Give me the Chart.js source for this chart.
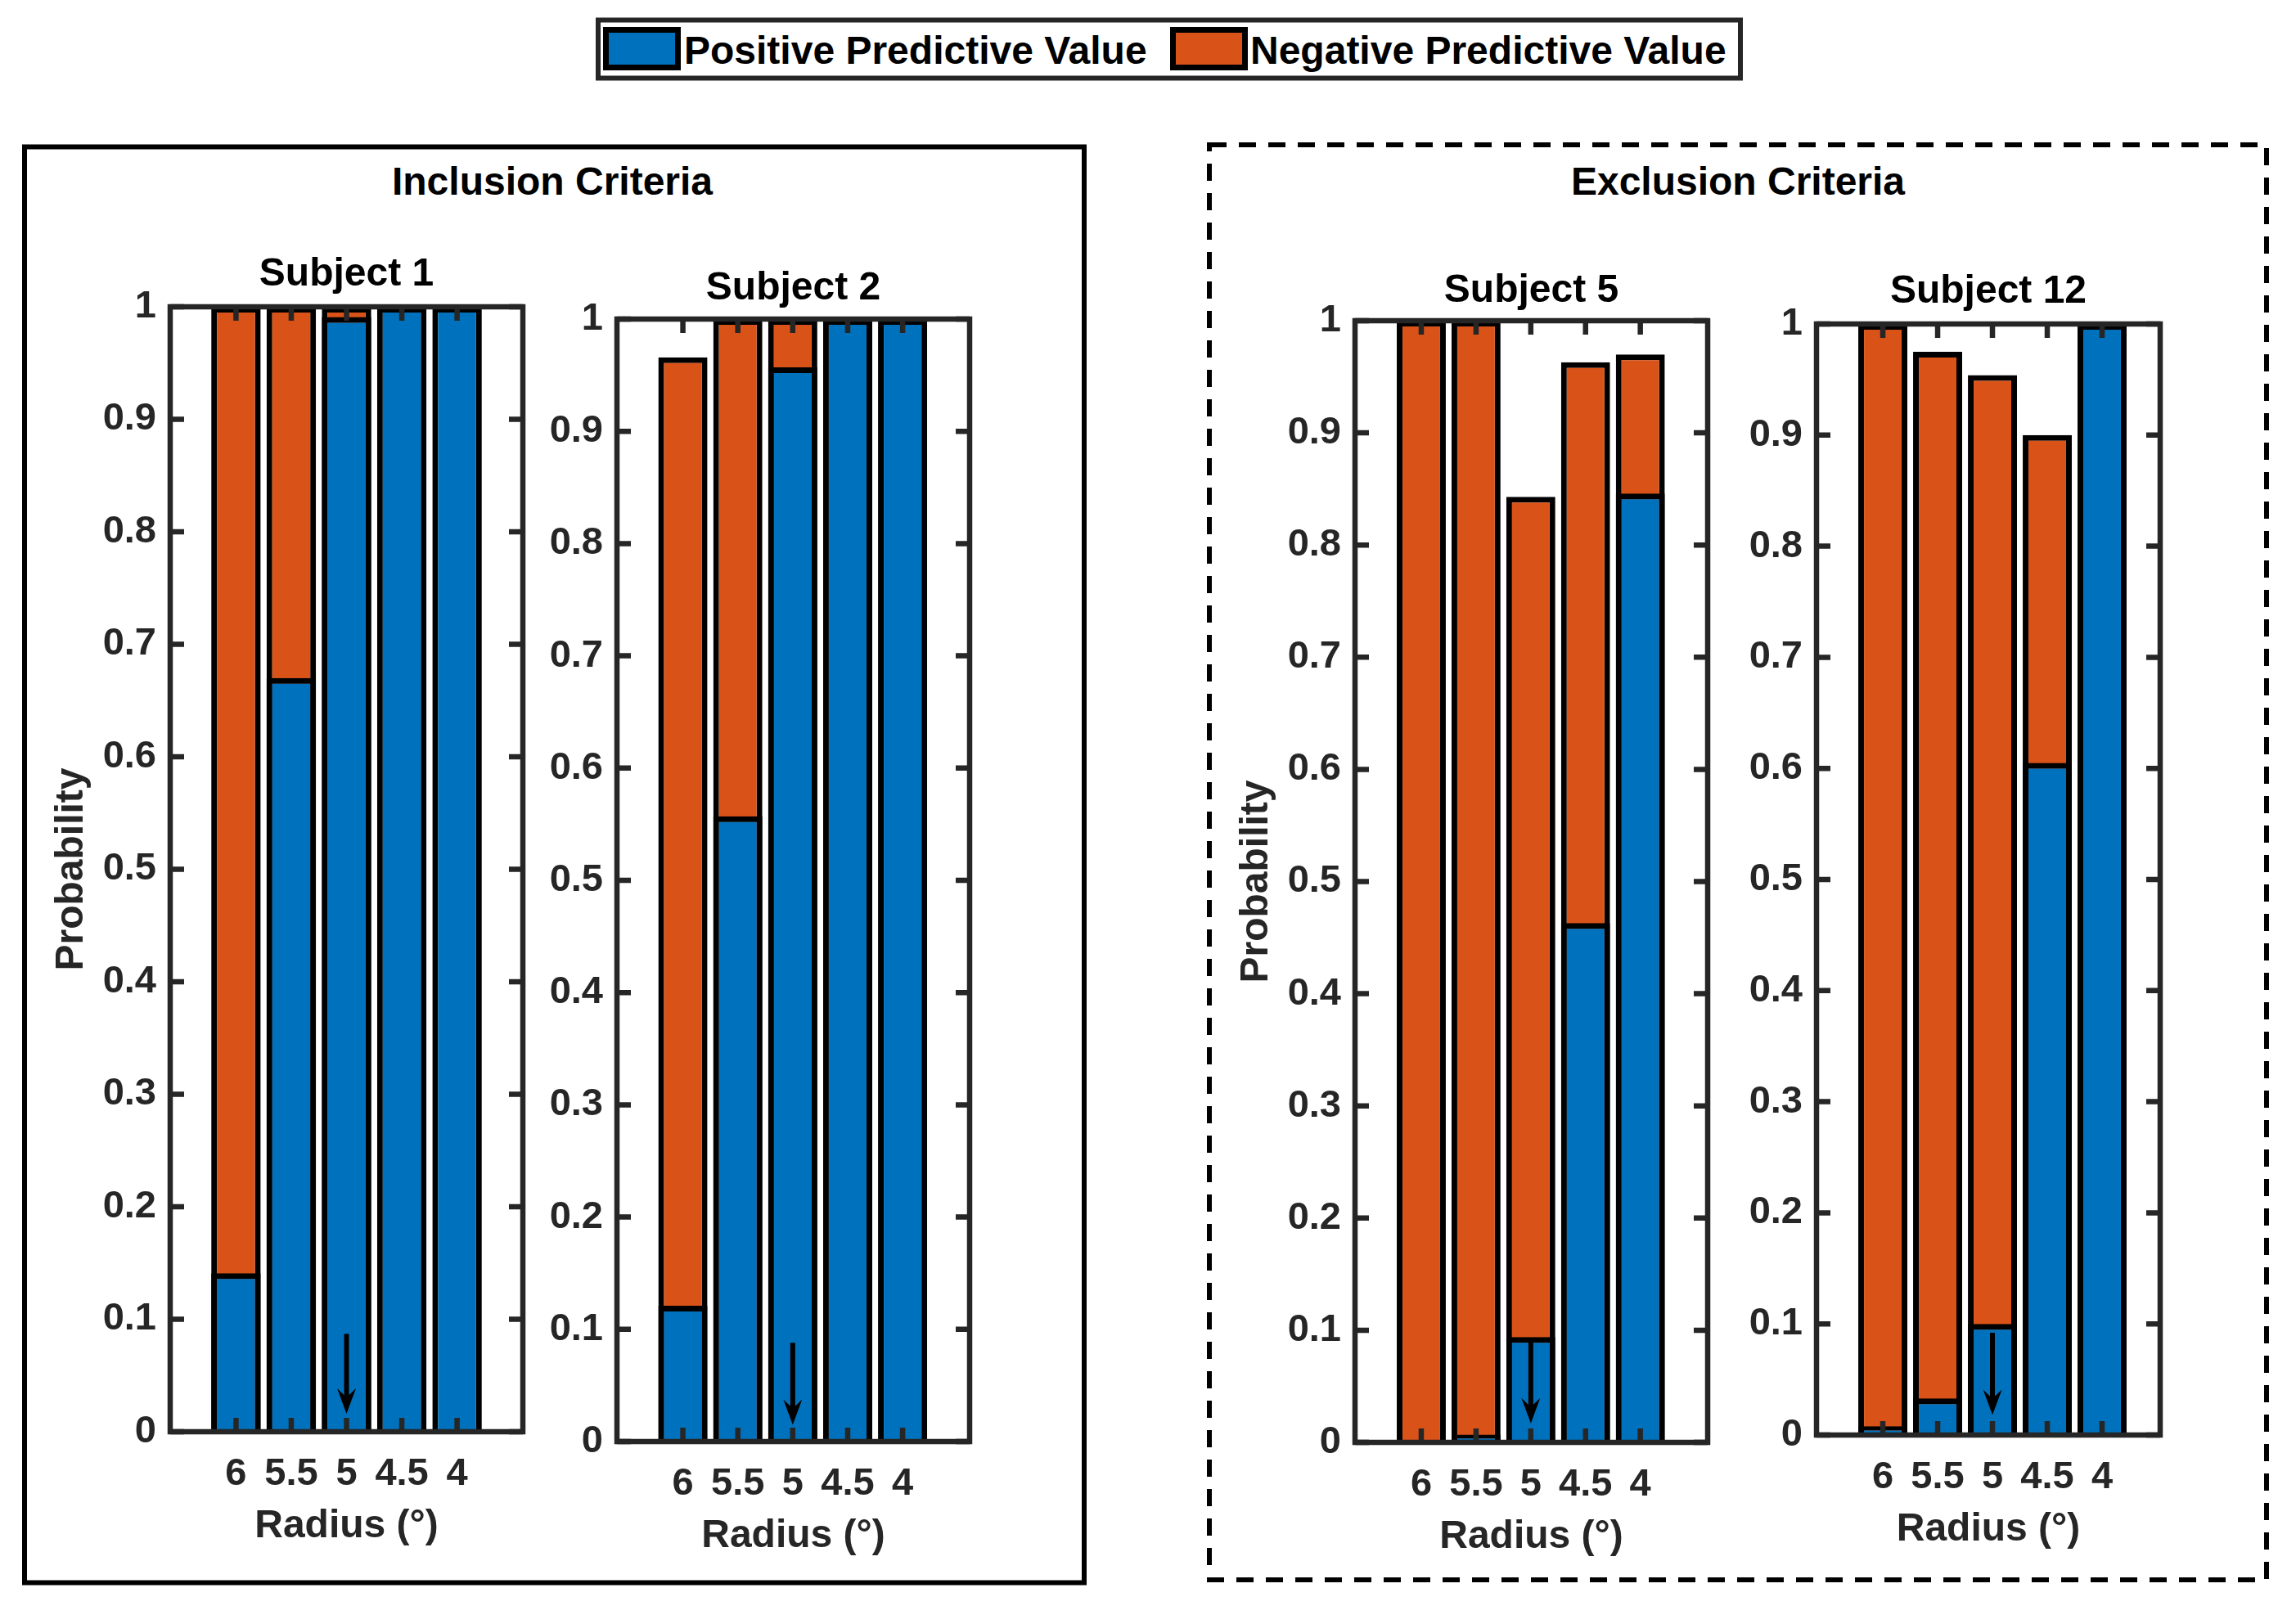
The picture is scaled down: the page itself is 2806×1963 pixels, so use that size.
<!DOCTYPE html>
<html>
<head>
<meta charset="utf-8">
<script src="https://cdn.jsdelivr.net/npm/chart.js@4.4.1/dist/chart.umd.min.js"></script>
<style>
  html, body { margin: 0; padding: 0; background: #fff; }
  body { width: 2806px; height: 1963px; position: relative; overflow: hidden;
         font-family: "Liberation Sans", Arial, sans-serif; font-weight: bold; }
  .panel { position: absolute; }
  .txt { position: absolute; white-space: nowrap; font-size: 48px; line-height: 60px; color: #000; }
  .centre { text-align: center; width: 800px; }
</style>
</head>
<body>

<svg style="position:absolute;left:0;top:0" width="2806" height="1963">
  <!-- legend -->
  <rect x="731" y="24.5" width="1396" height="71" fill="#fff" stroke="#262626" stroke-width="6"/>
  <rect x="740.5" y="36.5" width="88" height="46" fill="#0072BD" stroke="#000" stroke-width="7"/>
  <rect x="1433.5" y="36.5" width="88" height="46" fill="#D95319" stroke="#000" stroke-width="7"/>
  <!-- group boxes -->
  <rect x="30" y="179.5" width="1295" height="1755" fill="none" stroke="#000" stroke-width="6"/>
  <rect x="1478" y="177" width="1292" height="1754" fill="none" stroke="#000" stroke-width="6" stroke-dasharray="21 15"/>
</svg>

<div class="txt" style="left:836px;top:32px">Positive Predictive Value</div>
<div class="txt" style="left:1528px;top:32px">Negative Predictive Value</div>
<div class="txt centre" style="left:275px;top:192px">Inclusion Criteria</div>
<div class="txt centre" style="left:1724px;top:192px">Exclusion Criteria</div>

<script>
// values
const radii = ['6', '5.5', '5', '4.5', '4'];
const subjects = ['Subject 1', 'Subject 2', 'Subject 5', 'Subject 12'];

const ppvSubject1 = [0.141, 0.670, 0.991, 1.000, 1.000];
const npvSubject1 = [1.000, 1.000, 1.000, null, null];

const ppvSubject2 = [0.121, 0.557, 0.957, 1.000, 1.000];
const npvSubject2 = [0.966, 1.000, 1.000, null, null];

const ppvSubject5 = [0.000, 0.007, 0.094, 0.463, 0.846];
const npvSubject5 = [1.000, 1.000, 0.843, 0.963, 0.970];

const ppvSubject12 = [0.008, 0.033, 0.100, 0.605, 1.000];
const npvSubject12 = [1.000, 0.975, 0.954, 0.900, null];

// arrow marking the chosen radius
const arrowRadius = '5';
const arrowStart = [0.087, 0.088, 0.089, 0.092];
const arrowEnd = [0.016, 0.015, 0.017, 0.018];

// page layout (pixels) of each plot area
const panels = [
    { L: 208,  T: 375, R: 639,  B: 1750, xMin: -0.19, xMax: 6.19, gap: 39, ylabel: true },
    { L: 754,  T: 390, R: 1185, B: 1762, xMin: -0.20, xMax: 6.22, gap: 37, ylabel: false },
    { L: 1656, T: 392, R: 2087, B: 1763, xMin: -0.21, xMax: 6.23, gap: 36, ylabel: true },
    { L: 2220, T: 396, R: 2640, B: 1754, xMin: -0.21, xMax: 6.06, gap: 39, ylabel: false }
];
const ppvAll = [ppvSubject1, ppvSubject2, ppvSubject5, ppvSubject12];
const npvAll = [npvSubject1, npvSubject2, npvSubject5, npvSubject12];

const azul = '#0072BD';
const naranja = '#D95319';
const ejes = '#262626';
const familia = "'Liberation Sans', Arial, sans-serif";

Chart.defaults.font.family = familia;
Chart.defaults.font.weight = 'bold';

// axes box, inward ticks on all sides and the arrow
const marco = {
    id: 'marco',
    afterDatasetsDraw(chart, args, opts) {
        const { ctx, chartArea: a } = chart;
        const x = chart.scales.x;
        const y = chart.scales.y;
        ctx.save();
        ctx.strokeStyle = ejes;
        ctx.lineWidth = 6.5;
        ctx.lineCap = 'butt';
        ctx.beginPath();
        y.ticks.forEach(t => {
            const py = y.getPixelForValue(t.value);
            ctx.moveTo(a.left, py); ctx.lineTo(a.left + 17, py);
            ctx.moveTo(a.right, py); ctx.lineTo(a.right - 17, py);
        });
        x.ticks.forEach(t => {
            const px = x.getPixelForValue(t.value);
            ctx.moveTo(px, a.bottom); ctx.lineTo(px, a.bottom - 17);
            ctx.moveTo(px, a.top); ctx.lineTo(px, a.top + 17);
        });
        ctx.stroke();
        ctx.strokeRect(a.left, a.top, a.right - a.left, a.bottom - a.top);

        // flecha
        const ax = x.getPixelForValue(radii.indexOf(opts.radius) + 1);
        const y1 = y.getPixelForValue(opts.from);
        const y2 = y.getPixelForValue(opts.to);
        ctx.strokeStyle = '#000';
        ctx.fillStyle = '#000';
        ctx.lineWidth = 6;
        ctx.beginPath();
        ctx.moveTo(ax, y1);
        ctx.lineTo(ax, y2 - 18);
        ctx.stroke();
        ctx.beginPath();
        ctx.moveTo(ax, y2);
        ctx.lineTo(ax - 11.5, y2 - 31);
        ctx.lineTo(ax, y2 - 20);
        ctx.lineTo(ax + 11.5, y2 - 31);
        ctx.closePath();
        ctx.fill();
        ctx.restore();
    }
};

const W = 157;   // room for the y tick labels (mirrored on the right)
const H = 145;   // room for x tick labels and x title

panels.forEach((p, i) => {
    const titleH = Math.round(28.8 + p.gap);
    const cw = (p.R - p.L) + 2 * W;
    const ch = titleH + (p.B - p.T) + H;

    const div = document.createElement('div');
    div.className = 'panel';
    div.style.left = (p.L - W) + 'px';
    div.style.top = (p.T - titleH) + 'px';
    div.style.width = cw + 'px';
    div.style.height = ch + 'px';
    const canvas = document.createElement('canvas');
    canvas.width = cw;
    canvas.height = ch;
    div.appendChild(canvas);
    document.body.appendChild(div);

    const ppv = ppvAll[i];
    const npv = npvAll[i];

    const data = {
        datasets: [
            {
                label: 'Positive Predictive Value',
                data: radii.map((r, k) => ({ x: k + 1, y: ppv[k] })),
                backgroundColor: azul,
                borderColor: '#000',
                borderWidth: 7,
                borderSkipped: 'start',
                barPercentage: 0.895,
                categoryPercentage: 1
            },
            {
                label: 'Negative Predictive Value',
                data: radii.map((r, k) => ({ x: k + 1, y: npv[k] })),
                backgroundColor: naranja,
                borderColor: '#000',
                borderWidth: 7,
                borderSkipped: 'start',
                barPercentage: 0.895,
                categoryPercentage: 1
            }
        ]
    };

    const config = {
        type: 'bar',
        data: data,
        options: {
            responsive: false,
            animation: false,
            layout: { padding: 0 },
            scales: {
                x: {
                    type: 'linear',
                    stacked: true,
                    offset: false,
                    min: p.xMin,
                    max: p.xMax,
                    afterBuildTicks: s => { s.ticks = radii.map((r, k) => ({ value: k + 1 })); },
                    afterFit: s => { s.height = H; },
                    grid: { display: false, drawTicks: false, offset: false },
                    border: { display: false },
                    ticks: {
                        autoSkip: false,
                        maxRotation: 0,
                        minRotation: 0,
                        padding: 24,
                        color: ejes,
                        font: { size: 47, weight: 'bold' },
                        callback: v => radii[Math.round(v) - 1]
                    },
                    title: {
                        display: true,
                        text: 'Radius (°)',
                        color: ejes,
                        font: { size: 48, weight: 'bold' },
                        padding: { top: 0, bottom: 0 }
                    }
                },
                y: {
                    position: 'left',
                    stacked: false,
                    min: 0,
                    max: 1,
                    afterFit: s => { s.width = W; },
                    grid: { display: false, drawTicks: false },
                    border: { display: false },
                    ticks: {
                        stepSize: 0.1,
                        padding: 17,
                        color: ejes,
                        font: { size: 47, weight: 'bold' },
                        callback: v => String(Math.round(v * 10) / 10)
                    },
                    title: {
                        display: p.ylabel,
                        text: 'Probability',
                        color: ejes,
                        font: { size: 48, weight: 'bold' },
                        padding: { top: 7.5, bottom: 0 }
                    }
                },
                y2: {
                    position: 'right',
                    min: 0,
                    max: 1,
                    afterFit: s => { s.width = W; },
                    grid: { display: false, drawTicks: false },
                    border: { display: false },
                    ticks: { display: false }
                }
            },
            plugins: {
                legend: { display: false },
                tooltip: { enabled: false },
                title: {
                    display: true,
                    text: subjects[i],
                    color: '#000',
                    font: { size: 48, weight: 'bold', lineHeight: 1.2 },
                    padding: { top: 0, bottom: titleH - 57.6 }
                },
                marco: { radius: arrowRadius, from: arrowStart[i], to: arrowEnd[i] }
            }
        },
        plugins: [marco]
    };

    new Chart(canvas, config);
});
</script>
</body>
</html>
